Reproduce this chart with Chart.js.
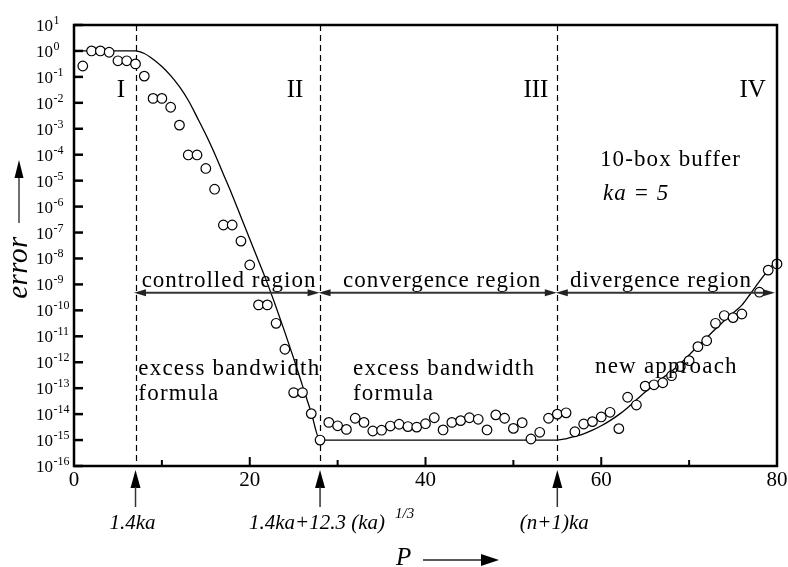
<!DOCTYPE html>
<html><head><meta charset="utf-8">
<script src="https://cdn.jsdelivr.net/npm/chart.js@4/dist/chart.umd.min.js"></script>
<style>html,body{margin:0;padding:0;background:#fff}canvas{display:block}</style>
</head><body>
<canvas id="c" width="788" height="567"></canvas>
<script>
// ---- data (error given as log10 exponent) ----
const pSim = [1,2,3,4,5,6,7,8,9,10,11,12,13,14,15,16,17,18,19,20,21,22,23,24,25,26,27,28,29,30,31,32,33,34,35,36,37,38,39,40,41,42,43,44,45,46,47,48,49,50,51,52,53,54,55,56,57,58,59,60,61,62,63,64,65,66,67,68,69,70,71,72,73,74,75,76,78,79,80];
const expSim = [-0.58,0,0,-0.05,-0.38,-0.38,-0.5,-0.97,-1.83,-1.83,-2.17,-2.86,-4.01,-4.01,-4.53,-5.33,-6.71,-6.71,-7.33,-8.25,-9.79,-9.79,-10.5,-11.5,-13.17,-13.17,-13.98,-15,-14.32,-14.45,-14.59,-14.16,-14.32,-14.65,-14.62,-14.46,-14.39,-14.48,-14.5,-14.37,-14.14,-14.61,-14.32,-14.25,-14.14,-14.2,-14.61,-14.03,-14.16,-14.55,-14.33,-14.96,-14.7,-14.16,-14.0,-13.95,-14.68,-14.38,-14.29,-14.11,-13.93,-14.56,-13.35,-13.65,-12.92,-12.87,-12.79,-12.52,-12.17,-11.94,-11.4,-11.17,-10.5,-10.2,-10.28,-10.14,-9.3,-8.45,-8.21];
const pCurve = [0,2,4,6,7,8,9,10,11,12,13,14,15,16,17,18,19,20,21,22,23,24,25,26,27,28,40,55,56,57,58,59,60,61,62,63,64,65,66,67,68,69,70,71,72,73,74,75,76,77,78,79,80];
const expCurve = [0,0,0,0,0,-0.1,-0.32,-0.6,-0.95,-1.38,-1.9,-2.55,-3.22,-3.95,-4.75,-5.55,-6.4,-7.25,-8.1,-8.95,-9.88,-10.85,-11.85,-12.9,-13.95,-15,-15,-15,-14.95,-14.86,-14.76,-14.62,-14.45,-14.25,-14.02,-13.75,-13.45,-13.15,-12.88,-12.6,-12.35,-12.05,-11.72,-11.38,-11.05,-10.72,-10.4,-10.1,-9.8,-9.35,-8.88,-8.45,-8.05];
const xTickValues = [0,20,40,60,80];
const xTickLabels = ['0','20','40','60','80'];
const xMinorTicks = [10,30,50,70];
const yExponents = [1,0,-1,-2,-3,-4,-5,-6,-7,-8,-9,-10,-11,-12,-13,-14,-15,-16];
const regionBounds = [7,28,55];
const boundLabels = ['1.4ka','1.4ka+12.3 (ka)','(n+1)ka'];
const boundSup = ['','1/3',''];
const regionNames = ['I','II','III','IV'];
const regionTexts = ['controlled region','convergence region','divergence region'];

const FONT = "'Liberation Serif','Times New Roman',serif";
function txt(ctx, s, x, y, size, o) {
  o = o || {};
  ctx.save();
  ctx.font = (o.italic ? 'italic ' : '') + size + 'px ' + FONT;
  ctx.fillStyle = o.color || '#000';
  ctx.textAlign = o.align || 'left';
  ctx.textBaseline = 'alphabetic';
  if ('letterSpacing' in ctx) ctx.letterSpacing = (o.ls || 0) + 'px';
  ctx.fillText(s, x, y);
  const w = ctx.measureText(s).width;
  ctx.restore();
  return w;
}
function tri(ctx, pts) {
  ctx.beginPath(); ctx.moveTo(pts[0][0], pts[0][1]);
  for (let i = 1; i < pts.length; i++) ctx.lineTo(pts[i][0], pts[i][1]);
  ctx.closePath(); ctx.fill();
}

const decor = {
  id: 'decor',
  beforeDatasetsDraw(chart) {
    const {ctx, chartArea: a, scales: {x}} = chart;
    ctx.save();
    ctx.strokeStyle = '#000'; ctx.lineWidth = 1.2; ctx.setLineDash([6, 4]);
    regionBounds.forEach(p => {
      const px = Math.round(x.getPixelForValue(p)) + 0.5;
      ctx.beginPath(); ctx.moveTo(px, a.top); ctx.lineTo(px, a.bottom); ctx.stroke();
    });
    ctx.restore();
  },
  afterDatasetsDraw(chart) {
    const {ctx, chartArea: a, scales: {x, y}} = chart;
    const X = v => x.getPixelForValue(v);
    const Y = e => y.getPixelForValue(Math.pow(10, e));
    ctx.save();
    // frame
    ctx.strokeStyle = '#000'; ctx.lineWidth = 2.5;
    ctx.strokeRect(a.left, a.top, a.right - a.left, a.bottom - a.top);
    // y ticks + labels
    ctx.lineWidth = 2.5;
    yExponents.forEach(e => {
      const py = Y(e);
      ctx.beginPath(); ctx.moveTo(a.left, py); ctx.lineTo(a.left + 9, py); ctx.stroke();
      const w = txt(ctx, '10', 36, py + 6, 17);
      txt(ctx, String(e), 36 + w + 0.5, py - 1, 12);
    });
    // x ticks + labels
    ctx.lineWidth = 2;
    xTickValues.forEach((v, i) => {
      const px = X(v);
      if (v > 0 && v < 80) { ctx.beginPath(); ctx.moveTo(px, a.bottom); ctx.lineTo(px, a.bottom - 9); ctx.stroke(); }
      txt(ctx, xTickLabels[i], px, a.bottom + 20, 21, {align: 'center'});
    });
    xMinorTicks.forEach(v => {
      const px = X(v);
      ctx.beginPath(); ctx.moveTo(px, a.bottom); ctx.lineTo(px, a.bottom - 6); ctx.stroke();
    });
    // region numerals
    const numX = [5.35, 25.15, 52.57, 77.23];
    regionNames.forEach((s, i) => txt(ctx, s, X(numX[i]), Y(-1.78), 25, {align: 'center'}));
    // buffer text
    txt(ctx, '10-box buffer', X(59.86), Y(-4.42), 23, {ls: 1.1});
    txt(ctx, 'ka = 5', X(60.2), Y(-5.75), 23, {italic: true, ls: 1});
    // region texts and double arrows
    const rtX = [7.70, 30.61, 56.44];
    regionTexts.forEach((s, i) => txt(ctx, s, X(rtX[i]), Y(-9.1), 23, {ls: 1}));
    const bounds = [regionBounds[0], regionBounds[1], regionBounds[2], 80];
    const ay = Y(-9.32);
    ctx.strokeStyle = '#333'; ctx.fillStyle = '#222'; ctx.lineWidth = 2;
    for (let i = 0; i < 3; i++) {
      const x1 = X(bounds[i]) - 1.5, x2 = X(bounds[i + 1]) - (i === 2 ? 2 : 0.5);
      ctx.beginPath(); ctx.moveTo(x1 + 8, ay); ctx.lineTo(x2 - 8, ay); ctx.stroke();
      tri(ctx, [[x1, ay], [x1 + 12, ay - 3.5], [x1 + 12, ay + 3.5]]);
      tri(ctx, [[x2, ay], [x2 - 12, ay - 3.5], [x2 - 12, ay + 3.5]]);
    }
    // excess bandwidth formula texts
    txt(ctx, 'excess bandwidth', X(7.32), Y(-12.49), 23, {ls: 1.2});
    txt(ctx, 'formula', X(7.32), Y(-13.46), 23, {ls: 1.2});
    txt(ctx, 'excess bandwidth', X(31.75), Y(-12.49), 23, {ls: 1.2});
    txt(ctx, 'formula', X(31.75), Y(-13.46), 23, {ls: 1.2});
    txt(ctx, 'new approach', X(59.29), Y(-12.43), 23, {ls: 1.2});
    // arrows below axis with labels
    ctx.strokeStyle = '#333'; ctx.fillStyle = '#000'; ctx.lineWidth = 1.5;
    regionBounds.forEach((p, i) => {
      const px = X(p);
      tri(ctx, [[px, a.bottom + 4], [px - 5, a.bottom + 22], [px + 5, a.bottom + 22]]);
      ctx.beginPath(); ctx.moveTo(px, a.bottom + 21); ctx.lineTo(px, a.bottom + 41); ctx.stroke();
      ctx.save();
      ctx.font = 'italic 21px ' + FONT;
      const w = ctx.measureText(boundLabels[i]).width;
      ctx.restore();
      const sx = px - 3 - w / 2;
      txt(ctx, boundLabels[i], sx, a.bottom + 63, 21, {italic: true});
      if (boundSup[i]) txt(ctx, boundSup[i], sx + w + 10, a.bottom + 52, 15, {italic: true});
    });
    // y axis title with arrow
    ctx.save();
    ctx.translate(27, 267.5); ctx.rotate(-Math.PI / 2);
    txt(ctx, 'error', 0, 0, 29, {italic: true, align: 'center', ls: 0.5});
    ctx.restore();
    ctx.strokeStyle = '#222'; ctx.fillStyle = '#000'; ctx.lineWidth = 1.3;
    ctx.beginPath(); ctx.moveTo(19, 223); ctx.lineTo(19, 176); ctx.stroke();
    tri(ctx, [[19, 160], [14.5, 178], [23.5, 178]]);
    // x axis title with arrow
    txt(ctx, 'P', 396, 565, 25, {italic: true});
    ctx.beginPath(); ctx.moveTo(423, 560); ctx.lineTo(484, 560); ctx.stroke();
    tri(ctx, [[499, 560], [481, 554], [481, 566]]);
    ctx.restore();
  }
};

new Chart(document.getElementById('c'), {
  type: 'scatter',
  data: {
    datasets: [
      {
        label: 'simulation',
        data: pSim.map((p, i) => ({x: p, y: Math.pow(10, expSim[i])})),
        pointStyle: 'circle', pointRadius: 4.8, pointBorderWidth: 1.2,
        pointBorderColor: '#000', pointBackgroundColor: '#fff',
        showLine: false, clip: false
      },
      {
        label: 'formula',
        data: pCurve.map((p, i) => ({x: p, y: Math.pow(10, expCurve[i])})),
        showLine: true, pointRadius: 0, borderColor: '#000', borderWidth: 1.3,
        cubicInterpolationMode: 'monotone', fill: false, clip: false
      }
    ]
  },
  options: {
    responsive: false, animation: false, devicePixelRatio: 1,
    layout: {padding: {left: 74, top: 25, right: 11, bottom: 101}},
    plugins: {legend: {display: false}, tooltip: {enabled: false}},
    scales: {
      x: {type: 'linear', min: 0, max: 80, display: false},
      y: {type: 'logarithmic', min: 1e-16, max: 10, display: false}
    }
  },
  plugins: [decor]
});
</script>
</body></html>
